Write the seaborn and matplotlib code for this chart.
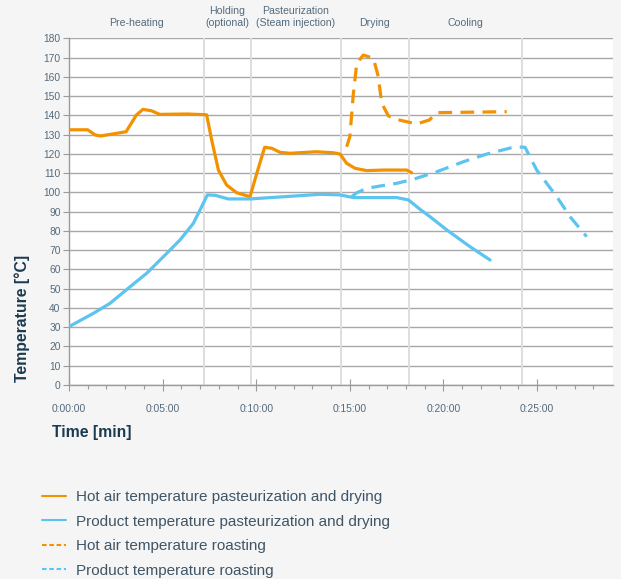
import matplotlib
matplotlib.use("Agg")
import matplotlib.pyplot as plt
from matplotlib.lines import Line2D
from matplotlib.ticker import FuncFormatter, MultipleLocator, FixedLocator
import seaborn as sns
import pandas as pd

# Hot air temperature, pasteurization and drying (solid orange)
air_past_t = [0, 1.0, 1.4, 1.7, 3.05, 3.6, 3.95, 4.4, 4.85, 6.3, 7.35, 7.62, 7.98,
              8.42, 8.96, 9.67, 10.03, 10.45, 10.83, 11.27, 11.8, 13.2, 14.1, 14.48,
              14.83, 15.28, 15.9, 16.8, 18.04, 18.3]
air_past_T = [132.5, 132.5, 129.8, 129.3, 131.5, 140.2, 143.1, 142.4, 140.5, 140.7,
              140.3, 127.2, 111.6, 103.8, 99.8, 97.8, 109.9, 123.4, 122.9, 120.8,
              120.3, 121.1, 120.6, 119.9, 115.1, 112.5, 111.3, 111.6, 111.6, 110.2]

# Product temperature, pasteurization and drying (solid blue)
prod_past_t = [0, 1.3, 2.19, 3.26, 4.15, 5.04, 5.93, 6.64, 7.0, 7.39, 7.8, 8.51, 9.67,
               13.41, 14.48, 15.19, 17.5, 18.13, 18.75, 19.28, 20.18, 21.42, 22.49]
prod_past_T = [30.3, 37.2, 42.4, 51.0, 58.0, 66.6, 75.3, 83.9, 90.9, 98.7, 98.5, 96.6,
               96.6, 99.0, 98.7, 97.3, 97.3, 96.1, 91.2, 87.4, 80.5, 71.8, 64.9]

# Hot air temperature, roasting (dashed orange)
air_roast_t = [14.83, 15.0, 15.19, 15.37, 15.72, 16.26, 16.52, 16.7, 17.06, 17.5,
               18.57, 19.25, 19.64, 23.38]
air_roast_T = [123.7, 128.9, 151.5, 167.0, 171.3, 169.6, 160.1, 146.3, 139.7, 137.9,
               135.5, 137.6, 141.4, 141.9]

# Product temperature, roasting (dashed blue)
prod_roast_t = [15.1, 15.37, 15.9, 16.61, 17.5, 18.39, 19.64, 21.06, 22.31, 23.83,
                24.36, 24.98, 26.05, 26.76, 27.65]
prod_roast_T = [97.8, 99.8, 102.1, 103.3, 104.7, 106.8, 110.7, 115.9, 119.9, 123.7,
                123.4, 111.6, 97.8, 87.4, 77.0]

# Process phases and their boundaries (minutes)
phase_edges = [0, 7.21, 9.71, 14.51, 18.16, 24.18]
phase_names = ["Pre-heating", "Holding\n(optional)", "Pasteurization\n(Steam injection)",
               "Drying", "Cooling"]

legend_labels = ["Hot air temperature pasteurization and drying",
                 "Product temperature pasteurization and drying",
                 "Hot air temperature roasting",
                 "Product temperature roasting"]

ORANGE = "#F39200"
BLUE = "#5CC4EF"
TEXT = "#556B7D"
TITLE = "#1B3A4F"

sns.set_style("white")
plt.rcParams["font.family"] = ["Liberation Sans", "DejaVu Sans"]

fig = plt.figure(figsize=(6.21, 5.79), dpi=100, facecolor="#F5F5F5")
ax = fig.add_axes([69 / 621, 1 - 385 / 579, (612.7 - 69) / 621, (385 - 38.3) / 579])
ax.set_facecolor("white")

# phase boundary lines
for edge in phase_edges[1:]:
    ax.axvline(edge, color="#DEDEDE", lw=1.4, zorder=1)

series = [
    (air_past_t, air_past_T, ORANGE, "-"),
    (prod_past_t, prod_past_T, BLUE, "-"),
    (air_roast_t, air_roast_T, ORANGE, "--"),
    (prod_roast_t, prod_roast_T, BLUE, "--"),
]
handles = []
for t, T, color, ls in series:
    df = pd.DataFrame({"t": t, "T": T})
    sns.lineplot(data=df, x="t", y="T", ax=ax, color=color, lw=2.3, sort=False,
                 estimator=None, zorder=3, legend=False)
    line = ax.lines[-1]
    if ls == "--":
        line.set_dashes((4.3, 2.6))
        handles.append(Line2D([], [], color=color, lw=1.5, dashes=(2.2, 1.3)))
    else:
        line.set_solid_capstyle("round")
        line.set_solid_joinstyle("round")
        handles.append(Line2D([], [], color=color, lw=1.5))

ax.set_xlim(0, 29.04)
ax.set_ylim(0, 180)
ax.yaxis.set_major_locator(MultipleLocator(10))
ax.xaxis.set_major_locator(FixedLocator([0, 5, 10, 15, 20, 25]))
ax.xaxis.set_minor_locator(FixedLocator(list(range(0, 29))))
ax.xaxis.set_major_formatter(FuncFormatter(lambda v, p: f"0:{int(round(v)):02d}:00"))
ax.grid(axis="y", color="#A8A8A8", lw=1.0, zorder=0)
ax.grid(axis="x", visible=False)
for s in ["top", "right"]:
    ax.spines[s].set_visible(False)
for s in ["left", "bottom"]:
    ax.spines[s].set_color("#9A9A9A")
    ax.spines[s].set_linewidth(1.0)
ax.tick_params(axis="y", which="major", left=True, length=4, width=0.8, color="#9A9A9A",
               labelsize=7.4, labelcolor=TEXT, pad=2)
ax.tick_params(axis="x", which="major", bottom=True, length=8, width=0.8, color="#9A9A9A",
               labelsize=7.4, labelcolor=TEXT, pad=10, direction="inout")
ax.tick_params(axis="x", which="minor", bottom=True, length=3, width=0.8, color="#9A9A9A")
ax.set_xlabel("")
ax.set_ylabel("")

# phase titles above the plot
for a, b, name in zip(phase_edges[:-1], phase_edges[1:], phase_names):
    ax.text((a + b) / 2, 1.03, name, transform=ax.get_xaxis_transform(), ha="center",
            va="bottom", fontsize=7.6, color=TEXT, linespacing=1.2)

fig.text(22 / 621, 1 - 318 / 579, "Temperature [°C]", rotation=90, ha="center",
         va="center", fontsize=11.3, fontweight="bold", color=TITLE)
fig.text(52 / 621, 1 - 432 / 579, "Time [min]", ha="left", va="center",
         fontsize=11.3, fontweight="bold", color=TITLE)

fig.legend(handles=handles, labels=legend_labels, loc="upper left",
           bbox_to_anchor=(42 / 621, 1 - 490 / 579), frameon=False, fontsize=11,
           labelcolor="#3F5566", handlelength=1.55, handletextpad=0.65, labelspacing=0.69,
           borderpad=0, borderaxespad=0)

fig.savefig("out.png", dpi=100, facecolor=fig.get_facecolor())
